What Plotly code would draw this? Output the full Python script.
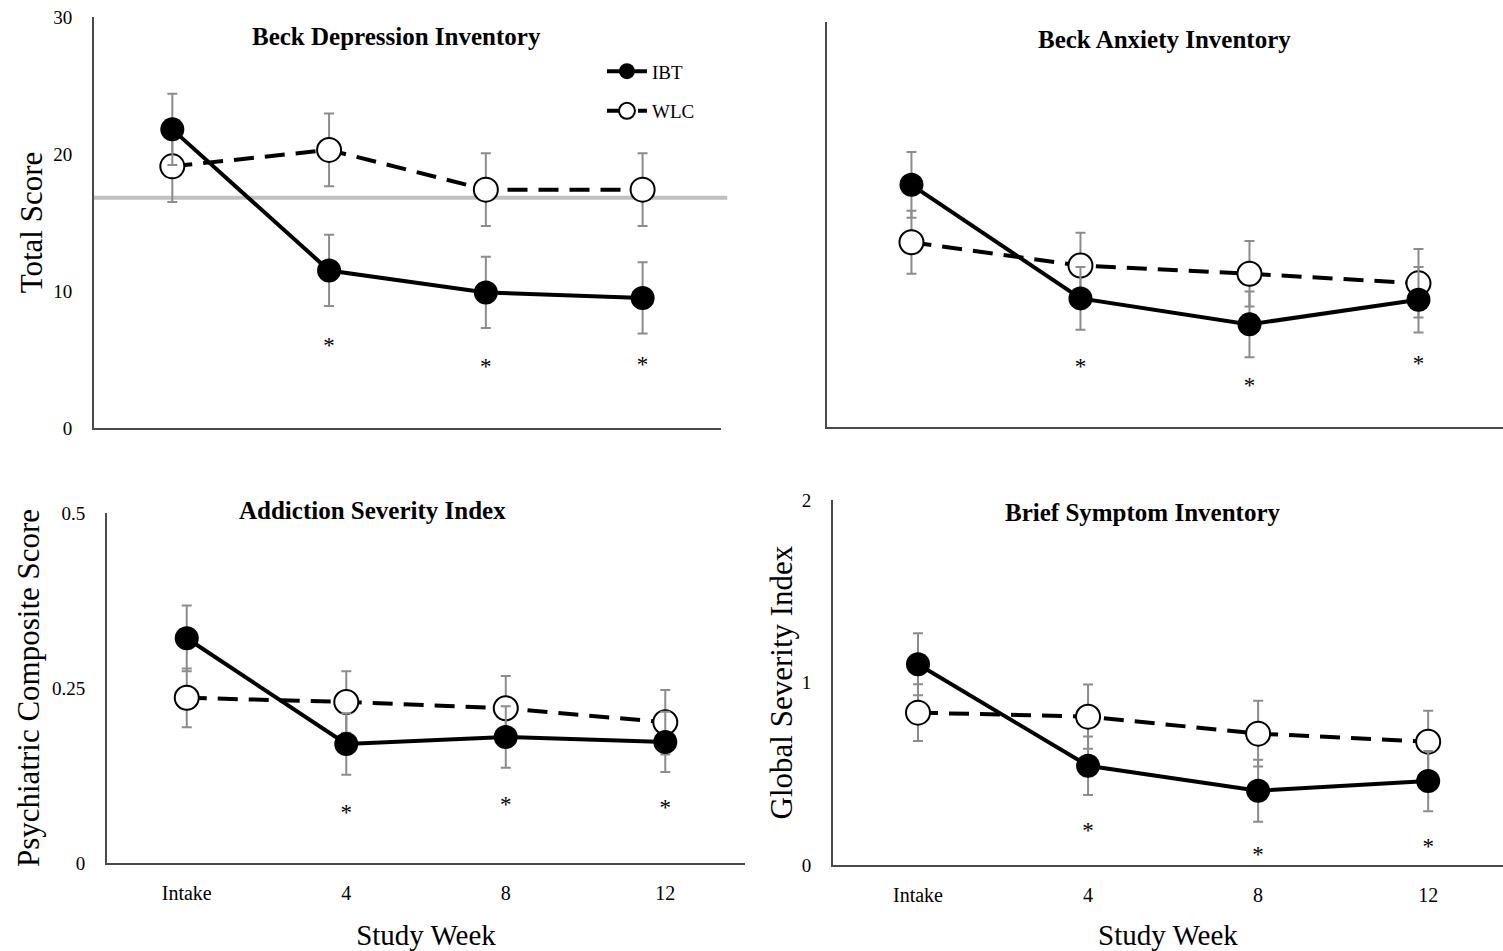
import plotly.graph_objects as go

weeks = ["Intake", "4", "8", "12"]

# Beck Depression Inventory (Total Score)
bdi_ibt = [21.8, 11.5, 9.9, 9.5]
bdi_ibt_err = [2.6, 2.6, 2.6, 2.6]
bdi_wlc = [19.1, 20.3, 17.4, 17.4]
bdi_wlc_err = [2.6, 2.65, 2.65, 2.65]
bdi_cutoff = 16.8
bdi_sig = [None, 5.9, 4.4, 4.5]

# Beck Anxiety Inventory
bai_ibt = [17.7, 9.4, 7.5, 9.3]
bai_ibt_err = [2.4, 2.3, 2.4, 2.4]
bai_wlc = [13.5, 11.8, 11.2, 10.5]
bai_wlc_err = [2.3, 2.4, 2.4, 2.5]
bai_sig = [None, 4.3, 2.9, 4.5]

# Addiction Severity Index (Psychiatric Composite Score)
asi_ibt = [0.321, 0.170, 0.180, 0.173]
asi_ibt_err = [0.047, 0.044, 0.044, 0.043]
asi_wlc = [0.236, 0.230, 0.221, 0.201]
asi_wlc_err = [0.042, 0.044, 0.046, 0.046]
asi_sig = [None, 0.070, 0.081, 0.077]

# Brief Symptom Inventory (Global Severity Index)
bsi_ibt = [1.10, 0.544, 0.407, 0.46]
bsi_ibt_err = [0.17, 0.16, 0.17, 0.165]
bsi_wlc = [0.835, 0.813, 0.72, 0.676]
bsi_wlc_err = [0.155, 0.176, 0.18, 0.17]
bsi_sig = [None, 0.18, 0.05, 0.09]

FONT = "Liberation Serif"
ERR_COLOR = "#8c8c8c"
AXIS_COLOR = "#4a4a4a"

panels = [
    ("", bdi_ibt, bdi_ibt_err, bdi_wlc, bdi_wlc_err, bdi_sig),
    ("2", bai_ibt, bai_ibt_err, bai_wlc, bai_wlc_err, bai_sig),
    ("3", asi_ibt, asi_ibt_err, asi_wlc, asi_wlc_err, asi_sig),
    ("4", bsi_ibt, bsi_ibt_err, bsi_wlc, bsi_wlc_err, bsi_sig),
]

fig = go.Figure()
for i, (s, ibt, ibt_e, wlc, wlc_e, sig) in enumerate(panels):
    xa = "x" + s
    ya = "y" + s
    fig.add_trace(go.Scatter(
        x=weeks, y=wlc, xaxis=xa, yaxis=ya, mode="lines+markers",
        name="WLC", legendgroup="WLC", showlegend=(i == 0), legendrank=2,
        line=dict(color="black", width=4, dash="20px,11px"),
        marker=dict(size=24, color="white", line=dict(color="black", width=2)),
        error_y=dict(type="data", array=wlc_e, color=ERR_COLOR, thickness=2, width=5),
    ))
    fig.add_trace(go.Scatter(
        x=weeks, y=ibt, xaxis=xa, yaxis=ya, mode="lines+markers",
        name="IBT", legendgroup="IBT", showlegend=(i == 0), legendrank=1,
        line=dict(color="black", width=4),
        marker=dict(size=24, color="black"),
        error_y=dict(type="data", array=ibt_e, color=ERR_COLOR, thickness=2, width=5),
    ))
    fig.add_trace(go.Scatter(
        x=weeks, y=sig, xaxis=xa, yaxis=ya, mode="text",
        text=["" if v is None else "*" for v in sig],
        textfont=dict(family=FONT, size=23, color="black"),
        showlegend=False, hoverinfo="skip",
    ))

axis_common = dict(
    type="category", categoryorder="array", categoryarray=weeks,
    showgrid=False, zeroline=False, showline=True, linecolor=AXIS_COLOR,
    linewidth=2, ticks="", tickfont=dict(family=FONT, size=20, color="black"),
    ticklabelstandoff=11, automargin=False,
)
yaxis_common = dict(
    showgrid=False, zeroline=False, showline=True, linecolor=AXIS_COLOR,
    linewidth=2, ticks="", tickfont=dict(family=FONT, size=19, color="black"),
    ticklabelstandoff=16, automargin=False,
)
ytitle_font = dict(family=FONT, size=31, color="black")
xtitle_font = dict(family=FONT, size=29, color="black")

fig.update_layout(
    width=1503, height=951,
    margin=dict(l=0, r=0, t=0, b=0),
    paper_bgcolor="white", plot_bgcolor="white",
    font=dict(family=FONT, color="black"),
    xaxis=dict(axis_common, domain=[0.0625, 0.4797], range=[-0.5, 3.5],
               anchor="y", showticklabels=False),
    yaxis=dict(yaxis_common, domain=[0.5499, 0.9821], range=[0, 30],
               anchor="x", tickvals=[0, 10, 20, 30],
               title=dict(text="Total Score", font=ytitle_font, standoff=1)),
    xaxis2=dict(axis_common, domain=[0.5502, 1.0], range=[-0.5, 3.5],
                anchor="y2", showticklabels=False),
    yaxis2=dict(yaxis_common, domain=[0.5510, 0.9769], range=[0, 29.6],
                anchor="x2", showticklabels=False),
    xaxis3=dict(axis_common, domain=[0.0712, 0.4957], range=[-0.5, 3.5],
                anchor="y3",
                title=dict(text="Study Week", font=xtitle_font, standoff=23)),
    yaxis3=dict(yaxis_common, domain=[0.0925, 0.4606], range=[0, 0.5],
                anchor="x3", tickvals=[0, 0.25, 0.5], ticktext=["0", "0.25", "0.5"],
                title=dict(text="Psychiatric Composite Score", font=ytitle_font, standoff=3)),
    xaxis4=dict(axis_common, domain=[0.5542, 1.0], range=[-0.5, 3.44],
                anchor="y4",
                title=dict(text="Study Week", font=xtitle_font, standoff=23)),
    yaxis4=dict(yaxis_common, domain=[0.0904, 0.4742], range=[0, 2],
                anchor="x4", tickvals=[0, 1, 2],
                title=dict(text="Global Severity Index", font=ytitle_font, standoff=0)),
    legend=dict(
        x=0.4005, y=0.945, xanchor="left", yanchor="top",
        bgcolor="rgba(0,0,0,0)", font=dict(family=FONT, size=19, color="black"),
        tracegroupgap=12, itemwidth=40, traceorder="grouped",
    ),
    showlegend=True,
)

fig.add_shape(type="line", xref="x domain", yref="y", x0=0, x1=1.01,
              y0=bdi_cutoff, y1=bdi_cutoff, line=dict(color="#c0c0c0", width=4),
              layer="below")

panel_titles = [
    ("Beck Depression Inventory", 0.2635, 0.962),
    ("Beck Anxiety Inventory", 0.775, 0.958),
    ("Addiction Severity Index", 0.248, 0.4627),
    ("Brief Symptom Inventory", 0.760, 0.4606),
]
for text, xx, yy in panel_titles:
    fig.add_annotation(text="<b>" + text + "</b>", xref="paper", yref="paper", x=xx, y=yy,
                       showarrow=False, font=dict(family=FONT, size=25, color="black"),
                       xanchor="center", yanchor="middle")

fig.write_html("out.html")
